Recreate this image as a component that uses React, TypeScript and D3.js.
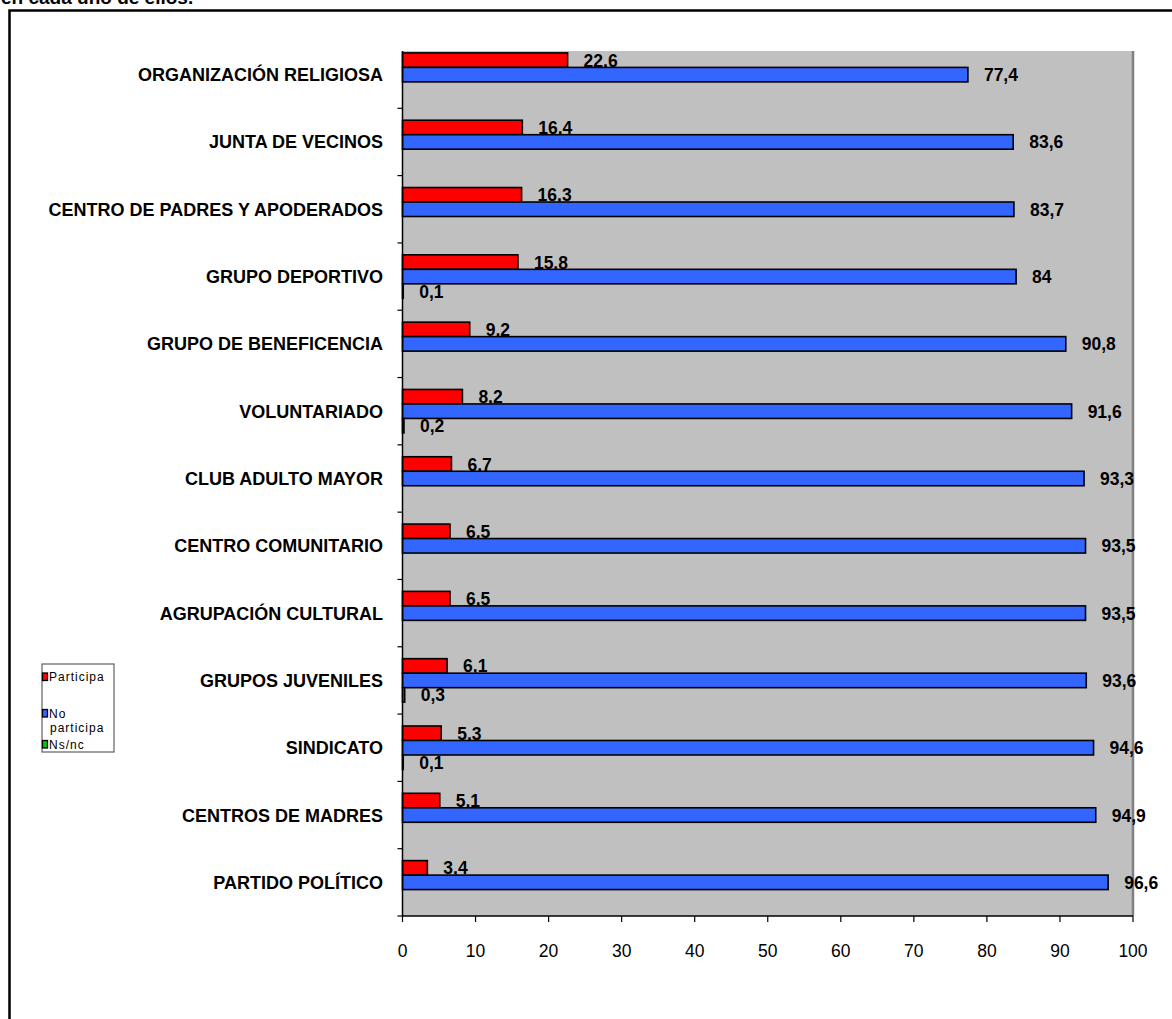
import React from "react";
import * as d3 from "d3";

const categories = [
  "ORGANIZACIÓN RELIGIOSA",
  "JUNTA DE VECINOS",
  "CENTRO DE PADRES Y APODERADOS",
  "GRUPO DEPORTIVO",
  "GRUPO DE BENEFICENCIA",
  "VOLUNTARIADO",
  "CLUB ADULTO MAYOR",
  "CENTRO COMUNITARIO",
  "AGRUPACIÓN CULTURAL",
  "GRUPOS JUVENILES",
  "SINDICATO",
  "CENTROS DE MADRES",
  "PARTIDO POLÍTICO",
];
const participa = [22.6, 16.4, 16.3, 15.8, 9.2, 8.2, 6.7, 6.5, 6.5, 6.1, 5.3, 5.1, 3.4];
const noParticipa = [77.4, 83.6, 83.7, 84, 90.8, 91.6, 93.3, 93.5, 93.5, 93.6, 94.6, 94.9, 96.6];
const nsnc = [0, 0, 0, 0.1, 0, 0.2, 0, 0, 0, 0.3, 0.1, 0, 0];
const seriesNames = ["Participa", "No participa", "Ns/nc"];
const seriesColors = ["#FF0000", "#3366FF", "#00CC00"];
const xTicks = [0, 10, 20, 30, 40, 50, 60, 70, 80, 90, 100];
const titleText = "en cada uno de ellos.";

const W = 1172;
const H = 1019;
const plotLeft = 402.5;
const plotRight = 1133;
const plotTopGray = 51;
const bandTop = 41;
const plotBottom = 916;

export default function App() {
  const x = d3.scaleLinear().domain([0, 100]).range([plotLeft, plotRight]);
  const y = d3.scaleBand<string>().domain(categories).range([bandTop, plotBottom]);
  const bw = y.bandwidth();
  const gap = bw * 0.177;
  const ys = d3.scaleBand<string>().domain(seriesNames).range([gap, bw - gap]);
  const bh = ys.bandwidth();
  const seriesData = [participa, noParticipa, nsnc];
  const fmt = (v: number) => String(v).replace(".", ",");
  const font = "Arial, 'Liberation Sans', sans-serif";

  return (
    <svg
      width={W}
      height={H}
      style={{ position: "absolute", left: 0, top: 0, background: "#fff" }}
      fontFamily={font}
    >
      {/* title fragment (cut off at the top, as in the source) */}
      <text x={1} y={4} fontSize={19} fontWeight="bold" fill="#000">
        {titleText}
      </text>
      {/* outer frame */}
      <path d={`M9.5,${H + 5} V10.5 H${W + 5}`} fill="none" stroke="#000" strokeWidth={2.5} />

      {/* plot area */}
      <rect x={plotLeft} y={plotTopGray} width={plotRight - plotLeft} height={plotBottom - plotTopGray} fill="#C0C0C0" />
      <line x1={plotRight} x2={plotRight} y1={plotTopGray} y2={plotBottom} stroke="#808080" strokeWidth={2.5} />

      {/* bars */}
      {categories.map((c, i) => (
        <g key={c} transform={`translate(0,${y(c)})`}>
          {seriesData.map((arr, s) => {
            const v = arr[i];
            if (!v) return null;
            const yy = ys(seriesNames[s])!;
            return (
              <g key={s}>
                <rect
                  x={x(0)}
                  y={yy}
                  width={x(v) - x(0)}
                  height={bh}
                  fill={seriesColors[s]}
                  stroke="#000"
                  strokeWidth={1.6}
                />
                <text
                  x={x(v) + 16}
                  y={yy + bh / 2 + 6.5}
                  fontSize={17.5}
                  fontWeight="bold"
                  fill="#000"
                >
                  {fmt(v)}
                </text>
              </g>
            );
          })}
        </g>
      ))}

      {/* y axis */}
      <line x1={plotLeft} x2={plotLeft} y1={plotTopGray} y2={plotBottom} stroke="#000" strokeWidth={1.5} />
      {categories.map((c) => (
        <g key={"yt" + c}>
          <line x1={plotLeft - 5} x2={plotLeft} y1={y(c)! + bw} y2={y(c)! + bw} stroke="#000" strokeWidth={1.2} />
          <text
            x={383}
            y={y(c)! + bw / 2 + 6.5}
            textAnchor="end"
            fontSize={18}
            fontWeight="bold"
            fill="#000"
          >
            {c}
          </text>
        </g>
      ))}

      {/* x axis */}
      <line x1={plotLeft} x2={plotRight} y1={plotBottom} y2={plotBottom} stroke="#000" strokeWidth={1.5} />
      {xTicks.map((t) => (
        <g key={"xt" + t}>
          <line x1={x(t)} x2={x(t)} y1={plotBottom} y2={plotBottom + 6} stroke="#000" strokeWidth={1.2} />
          <text x={x(t)} y={957} textAnchor="middle" fontSize={17.5} fill="#000">
            {t}
          </text>
        </g>
      ))}

      {/* legend */}
      <rect x={42} y={664} width={72} height={88} fill="#fff" stroke="#404040" strokeWidth={1} />
      {[
        { s: 0, lines: ["Participa"], y: 676.5 },
        { s: 1, lines: ["No", "participa"], y: 713 },
        { s: 2, lines: ["Ns/nc"], y: 744 },
      ].map((it) => (
        <g key={"lg" + it.s}>
          <rect x={42.5} y={it.y - 3.5} width={5} height={7.5} fill={seriesColors[it.s]} stroke="#000" strokeWidth={1.3} />
          {it.lines.map((ln, k) => (
            <text
              key={k}
              x={k === 0 ? 49 : 50}
              y={it.y + 4.5 + k * 14}
              fontSize={12}
              letterSpacing={1}
              fill="#000"
            >
              {ln}
            </text>
          ))}
        </g>
      ))}
    </svg>
  );
}
